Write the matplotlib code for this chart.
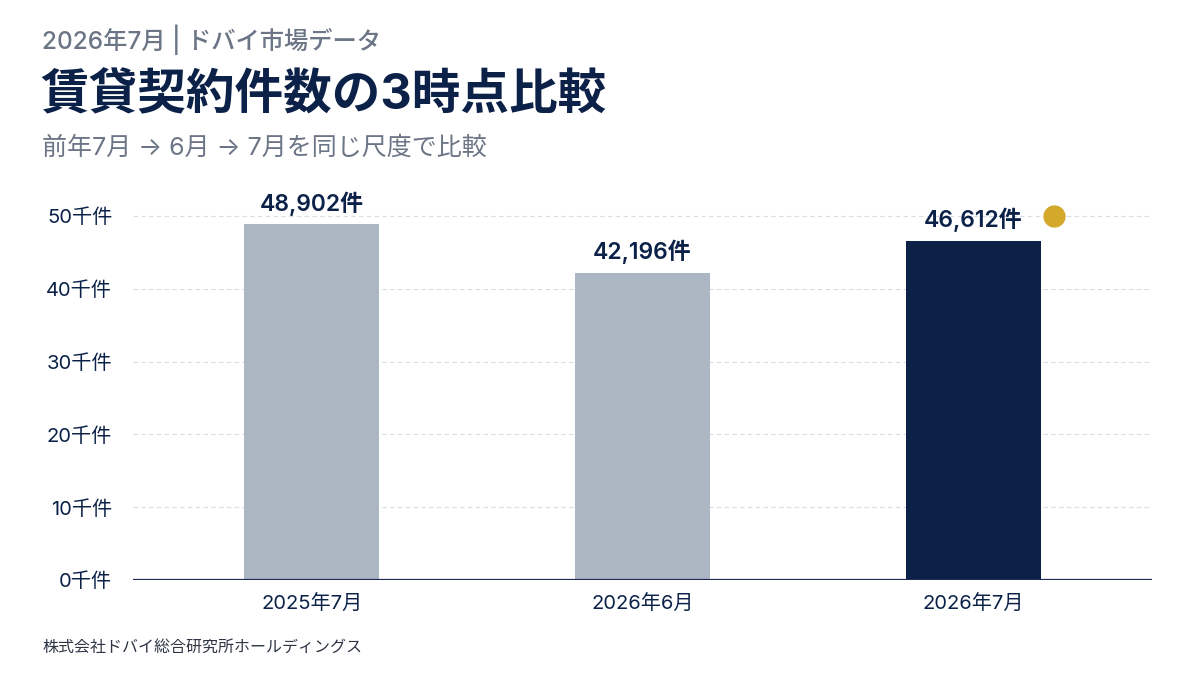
import numpy as np
import matplotlib.pyplot as plt

plt.rcParams['font.family'] = ['Inter', 'Noto Sans CJK JP', 'DejaVu Sans']

# data
periods = ['2025年7月', '2026年6月', '2026年7月']
contracts = [48902, 42196, 46612]
yticks = [0, 10000, 20000, 30000, 40000, 50000]
ytick_labels = ['%d千件' % (v // 1000) for v in yticks]

navy = '#0B2148'
gray_bar = '#ADB7C4'
gold = '#D4A82A'
sub_gray = '#6B7585'

fig = plt.figure(figsize=(12, 6.75), dpi=100)
ax = fig.add_axes([133/1200, 1 - 580/675, (1152-133)/1200, (580-190)/675])

x = np.arange(len(periods))
colors = [gray_bar, gray_bar, navy]
ax.bar(x, contracts, width=0.41, color=colors, zorder=2)

for xi, v in zip(x, contracts):
    ax.annotate('{:,}件'.format(v), (xi, v), xytext=(0, 6), textcoords='offset points',
                ha='center', va='bottom', fontsize=16.5, fontweight='semibold', color=navy)

# highlight dot next to the latest value
ax.plot([x[-1] + 0.243], [contracts[-1] + 3450], 'o', color=gold, markersize=15, zorder=3, clip_on=False)

ax.set_xlim(-0.54, 2.54)
ax.set_ylim(0, 50000 * 390 / 364)
ax.set_yticks(yticks)
ax.set_yticklabels(ytick_labels)
ax.set_xticks(x)
ax.set_xticklabels(periods)
ax.tick_params(axis='both', length=0, labelsize=14.5, labelcolor=navy)
ax.tick_params(axis='y', pad=15)
ax.tick_params(axis='x', pad=11)

ax.grid(axis='y', color='#D9DDE3', linestyle=(0, (4, 3)), linewidth=0.8, zorder=0)
ax.axhline(0, color='#1E2B52', linewidth=1.6, zorder=3)
for s in ax.spines.values():
    s.set_visible(False)

fig.text(42/1200, 1 - 40/675, '2026年7月 | ドバイ市場データ', fontsize=17.5, color=sub_gray,
         fontweight='medium', va='center', ha='left')
fig.text(40/1200, 1 - 96/675, '賃貸契約件数の3時点比較', fontsize=35, color=navy,
         fontweight='bold', va='center', ha='left')
fig.text(42/1200, 1 - 148/675, '前年7月 → 6月 → 7月を同じ尺度で比較', fontsize=18, color=sub_gray,
         va='center', ha='left')
fig.text(42/1200, 1 - 647/675, '株式会社ドバイ総合研究所ホールディングス', fontsize=11.5, color='#2E3645',
         va='center', ha='left')

fig.savefig('out.png', dpi=100, facecolor='white')
